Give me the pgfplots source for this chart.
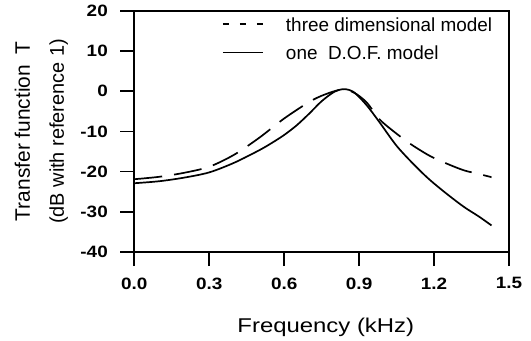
\documentclass[border=0pt]{standalone}
\usepackage{fontspec}
\setmainfont{Liberation Sans}
\usepackage{graphicx}
\usepackage{pgfplots}
\pgfplotsset{compat=1.18}
\newcommand\tl[1]{\scalebox{1.15}[1]{#1}}
\begin{document}
\begin{tikzpicture}[x=1bp,y=1bp]
\useasboundingbox (-134.3,-88) rectangle (396.7,252);
\begin{axis}[
  at={(0,0)}, anchor=south west,
  scale only axis, width=374.7bp, height=241.3bp,
  xmin=0, xmax=1.5, ymin=-40, ymax=20,
  axis line style={line width=1.8bp},
  xtick pos=bottom, ytick pos=left,
  xtick align=outside, ytick align=outside,
  major tick length=14bp,
  tick style={line width=1.6bp, black},
  xtick={0,0.3,0.6,0.9,1.2,1.5},
  xticklabels={\tl{0.0},\tl{0.3},\tl{0.6},\tl{0.9},\tl{1.2},\tl{1.5}},
  ytick={-40,-30,-20,-10,0,10,20},
  yticklabels={\tl{-40},\tl{-30},\tl{-20},\tl{-10},\tl{0},\tl{10},\tl{20}},
  ticklabel style={font=\fontsize{16.5}{16.5}\selectfont\bfseries},
  xticklabel style={yshift=-8bp},
  yticklabel style={xshift=-9bp},
  legend cell align=left,
  legend style={draw=none, fill=none, inner sep=0pt, outer sep=0pt,
    at={(0.234,0.9726)}, anchor=north west, row sep=14.3bp,
    nodes={inner sep=0pt, text height=14bp, text depth=0bp, font=\fontsize{19}{19}\selectfont},
    /tikz/every odd column/.append style={column sep=22.3bp}},
]
\addplot[black, line width=1.7bp, dash pattern=on 28bp off 12bp, smooth,
  legend image code/.code={\draw[black, line width=1.7bp, dash pattern=on 6bp off 11bp] (0bp,0bp)--(40bp,0bp);}]
coordinates {
(0.00,-21.9) (0.10,-21.3) (0.20,-20.3) (0.30,-18.8) (0.40,-15.8) (0.50,-11.6)
(0.60,-6.8) (0.70,-2.7) (0.76,-0.9) (0.83,0.4) (0.88,-0.4) (0.93,-2.8)
(0.98,-6.9) (1.03,-9.6) (1.10,-12.9) (1.18,-16.0) (1.25,-18.0) (1.32,-19.7)
(1.38,-20.6) (1.43,-21.4)};
\addlegendentry{three dimensional model}
\addplot[black, line width=1.7bp, smooth,
  legend image code/.code={\draw[black, line width=1.7bp] (0bp,0bp)--(40bp,0bp);}]
coordinates {
(0.00,-22.9) (0.10,-22.4) (0.20,-21.5) (0.30,-20.2) (0.40,-17.8) (0.50,-14.7)
(0.55,-12.9) (0.60,-10.9) (0.65,-8.5) (0.70,-5.6) (0.75,-2.5) (0.80,-0.2) (0.84,0.5) (0.88,-0.3)
(0.93,-3.5) (0.98,-7.6) (1.05,-13.6) (1.12,-18.3) (1.18,-21.9) (1.25,-25.5)
(1.32,-28.8) (1.38,-31.2) (1.43,-33.4)};
\addlegendentry{one\ \ D.O.F. model}
\end{axis}
\node[rotate=90, anchor=base, font=\fontsize{21}{21}\selectfont] at (-104.3,120.6) {Transfer function\hspace{0.5em}T};
\node[rotate=90, anchor=base, font=\fontsize{20}{20}\selectfont] at (-70.5,120.6) {(dB with reference 1)};
\node[anchor=base, font=\fontsize{20}{20}\selectfont] at (191.5,-80.3) {\scalebox{1.2}[1]{Frequency (kHz)}};
\end{tikzpicture}
\end{document}
